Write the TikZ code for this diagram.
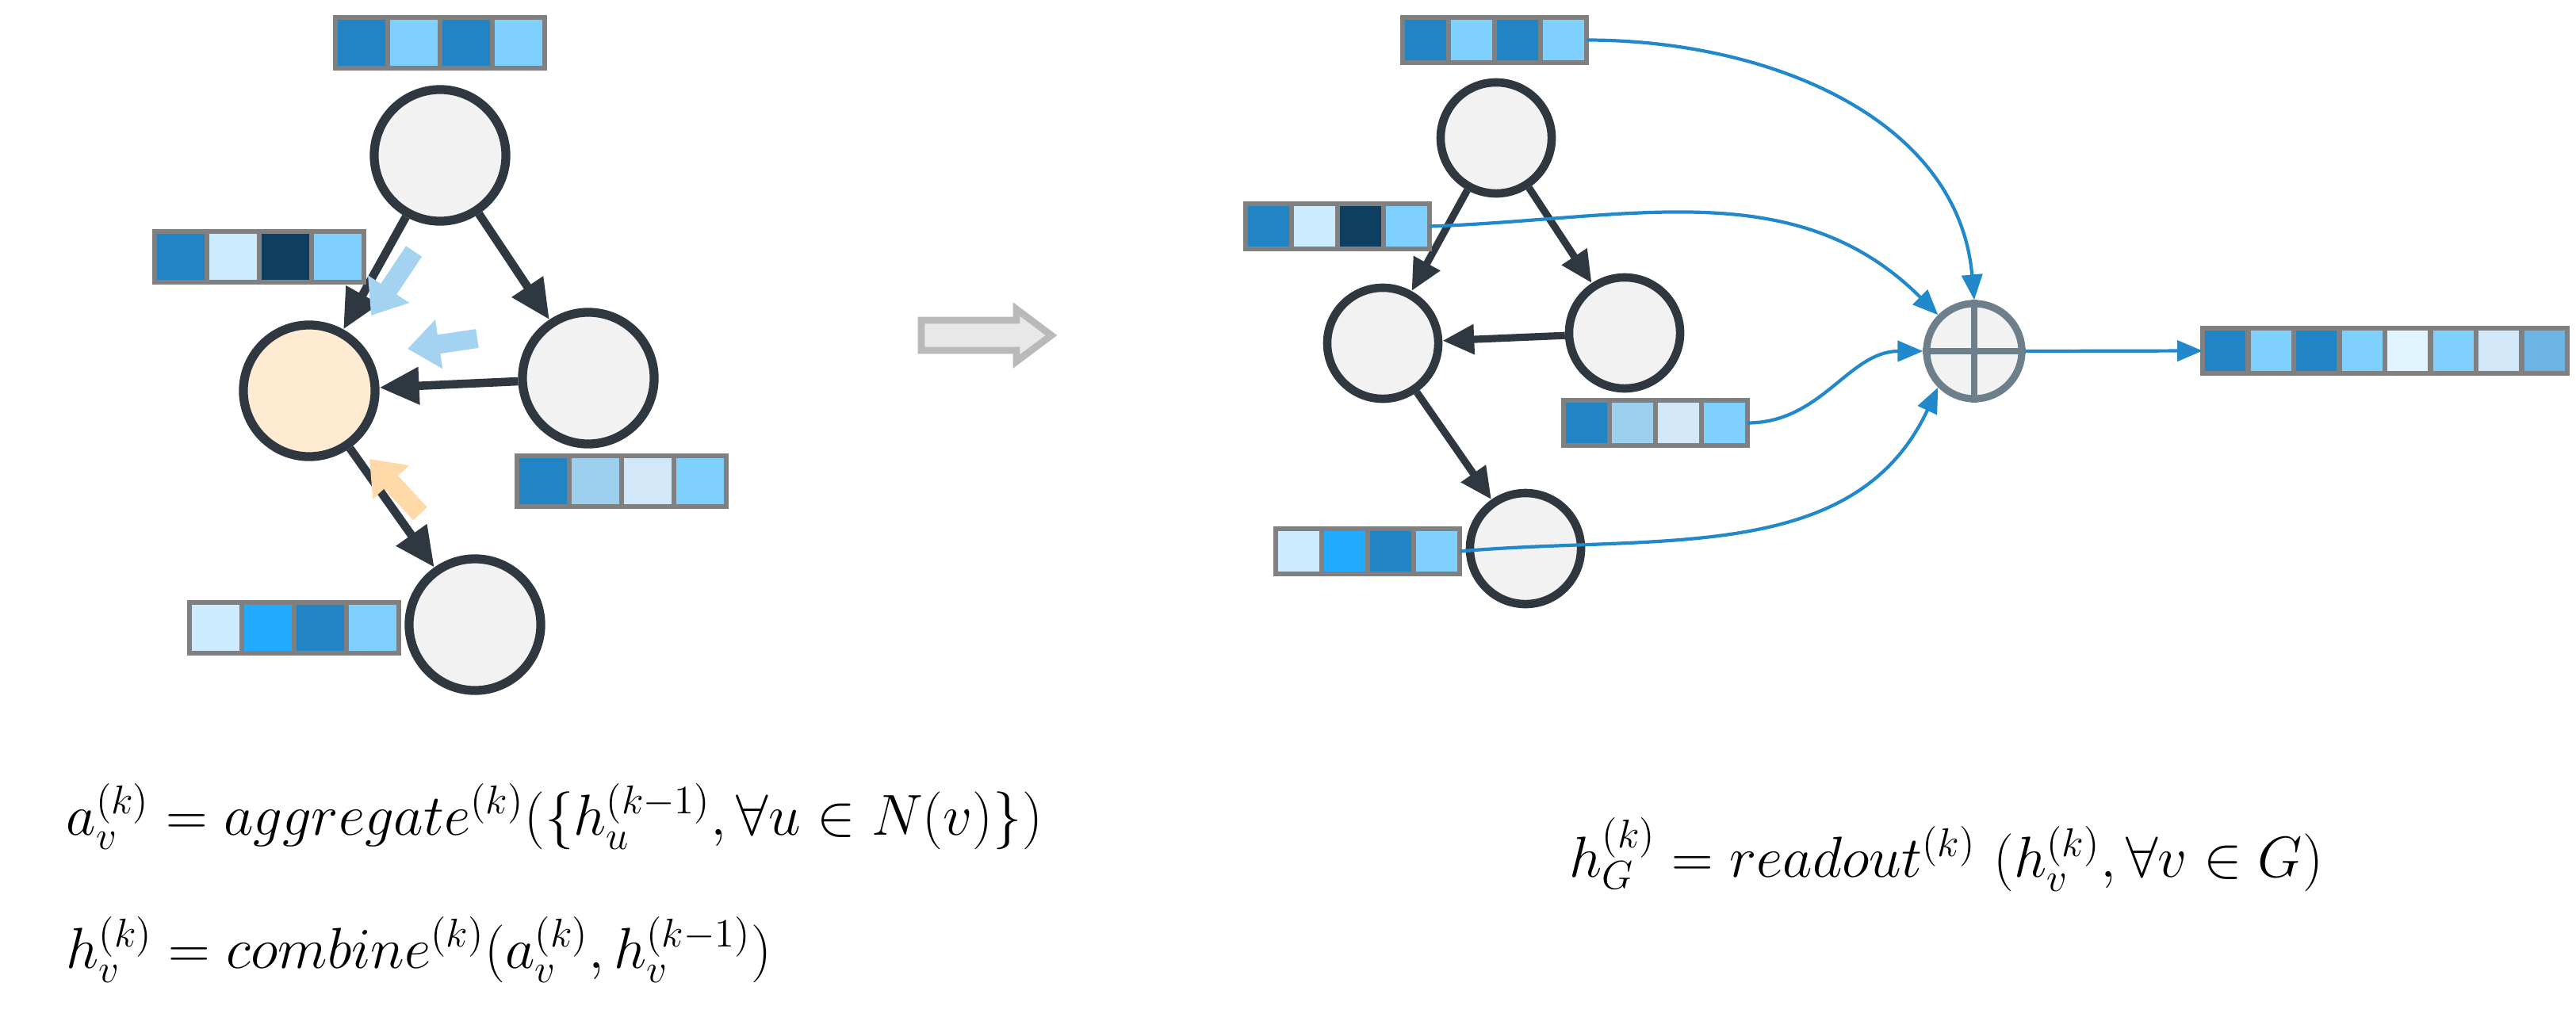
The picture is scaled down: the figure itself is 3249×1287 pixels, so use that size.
\documentclass[tikz,border=0pt]{standalone}
\usetikzlibrary{arrows.meta}
\definecolor{cD}{HTML}{2185C5}
\definecolor{cL}{HTML}{7FCFFF}
\definecolor{cV}{HTML}{CCEBFF}
\definecolor{cN}{HTML}{0F3F60}
\definecolor{cM}{HTML}{9DCFEF}
\definecolor{cP}{HTML}{D2E8F8}
\definecolor{cB}{HTML}{22AAFF}
\definecolor{cE}{HTML}{E0F4FF}
\definecolor{cS}{HTML}{6CB4E4}
\definecolor{edge}{HTML}{2F3840}
\definecolor{nodefill}{HTML}{F2F2F2}
\definecolor{orangefill}{HTML}{FFEBD2}
\definecolor{flow}{HTML}{2288CC}
\definecolor{lightblue}{HTML}{A3D3F0}
\definecolor{lightorange}{HTML}{FFD9A8}
\definecolor{plusc}{HTML}{6E7F8C}
\newcommand\vbar[7]{%
  \foreach[count=\i] \c in {#7}{%
    \filldraw[fill=\c,draw=gray,line width=1.8pt] ({#2+(\i-1)*#4},#3) rectangle ++(#4,#5);}
  \coordinate (#1) at ({#2},{#3+#5/2});
  \coordinate (#1-e) at ({#2+#4*#6},{#3+#5/2});
}
\tikzset{
  gn/.style={circle,draw=edge,line width=3.2pt,fill=nodefill,minimum size=1.66cm,inner sep=0},
  gs/.style={circle,draw=edge,line width=3pt,fill=nodefill,minimum size=1.4cm,inner sep=0},
  ge/.style={draw=edge,line width=3pt,-{Triangle[length=5mm,width=4.5mm]}},
  gse/.style={draw=edge,line width=2.6pt,-{Triangle[length=4mm,width=3.6mm]}},
  fl/.style={draw=flow,line width=1.2pt,-{Triangle[length=3.2mm,width=2.6mm]}},
  la/.style={line width=2.4mm,-{Triangle[length=4mm,width=6mm]}},
  eq/.style={anchor=west,inner sep=0,font=\fontsize{21}{25}\selectfont}
}
\begin{document}
\begin{tikzpicture}[x=0.01cm,y=-0.01cm]
\useasboundingbox (0,0) rectangle (3249,1287);
% left graph
\node[gn] (t) at (555,196) {};
\node[gn,fill=orangefill] (o) at (390,493) {};
\node[gn] (r) at (742,477) {};
\node[gn] (b) at (599,788) {};
\draw[ge] (t) -- (o);
\draw[ge] (t) -- (r);
\draw[ge] (r) -- (o);
\draw[ge] (o) -- (b);
\coordinate (a1s) at (522,317); \coordinate (a1e) at (468,398);
\coordinate (a2s) at (602,427); \coordinate (a2e) at (514,440);
\coordinate (a3s) at (530,648); \coordinate (a3e) at (466,579);
\draw[la,lightblue] (a1s) -- (a1e);
\draw[la,lightblue] (a2s) -- (a2e);
\draw[la,lightorange] (a3s) -- (a3e);
\vbar{v1}{423}{22}{66}{64}{4}{cD,cL,cD,cL}
\vbar{v2}{195}{292}{66}{64}{4}{cD,cV,cN,cL}
\vbar{v3}{652}{575}{66}{64}{4}{cD,cM,cP,cL}
\vbar{v4}{239}{760}{66}{64}{4}{cV,cB,cD,cL}
% big arrow
\filldraw[fill=gray!18,draw=gray!55,line width=2.5pt]
  (1162,404) -- (1282,404) -- (1282,390) -- (1326,423) -- (1282,456) -- (1282,442) -- (1162,442) -- cycle;
% right graph
\node[gs] (T) at (1887,174) {};
\node[gs] (A) at (1744,433) {};
\node[gs] (R) at (2049,420) {};
\node[gs] (B) at (1924,692) {};
\draw[gse] (T) -- (A);
\draw[gse] (T) -- (R);
\draw[gse] (R) -- (A);
\draw[gse] (A) -- (B);
\vbar{w1}{1769}{22}{58}{57}{4}{cD,cL,cD,cL}
\vbar{w2}{1571}{257}{58}{57}{4}{cD,cV,cN,cL}
\vbar{w3}{1972}{505}{58}{57}{4}{cD,cM,cP,cL}
\vbar{w4}{1609}{667}{58}{57}{4}{cV,cB,cD,cL}
\node[circle,draw=plusc,line width=2.6pt,fill=nodefill,minimum size=1.2cm,inner sep=0] (P) at (2490,443) {};
\draw[plusc,line width=2.4pt] (P.north) -- (P.south) (P.west) -- (P.east);
\vbar{out}{2778}{414}{57.5}{57}{8}{cD,cL,cD,cL,cE,cL,cP,cS}
\draw[fl] (w1-e) to[out=0,in=95] (P.north);
\draw[fl] (w2-e) to[out=2,in=135] (P.north west);
\draw[fl] (w3-e) to[out=0,in=180] (P.west);
\draw[fl] (w4-e) to[out=5,in=-115] (P.south west);
\draw[fl] (P.east) -- (out);
% formulas
\node[eq] (f1) at (83,1030) {$a_v^{(k)} = aggregate^{(k)}\Bigl(\Bigl\{h_u^{(k-1)},\forall u\in N(v)\Bigr\}\Bigr)$};
\node[eq] (f2) at (83,1198) {$h_v^{(k)} = combine^{(k)}(a_v^{(k)},h_v^{(k-1)})$};
\node[eq] (f3) at (1979,1078) {$h_G^{(k)} = readout^{(k)}\ (h_v^{(k)},\forall v\in G)$};
\end{tikzpicture}
\end{document}
